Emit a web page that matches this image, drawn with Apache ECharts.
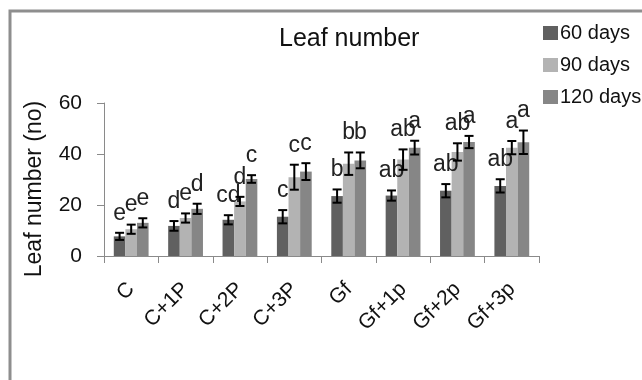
<!DOCTYPE html>
<html><head><meta charset="utf-8">
<script src="https://cdn.jsdelivr.net/npm/echarts@6/dist/echarts.min.js"></script>
<style>html,body{margin:0;padding:0;background:#fff}#c{width:642px;height:380px}</style>
</head><body><div id="c"></div>
<script>
const categories = ['C','C+1P','C+2P','C+3P','Gf','Gf+1p','Gf+2p','Gf+3p'];
const seriesNames = ['60 days','90 days','120 days'];
const days60  = [7.7, 11.8, 14.2, 15.4, 23.5, 23.7, 25.6, 27.5];
const days90  = [10.5, 14.9, 21.4, 30.9, 36.2, 37.8, 40.8, 42.5];
const days120 = [13.0, 18.5, 30.2, 33.1, 37.5, 42.5, 44.7, 44.6];
const err60  = [1.4, 1.9, 1.8, 2.6, 2.6, 2.0, 2.6, 2.6];
const err90  = [1.8, 1.8, 1.8, 4.9, 4.4, 4.0, 3.4, 2.6];
const err120 = [1.8, 2.0, 1.5, 3.3, 3.1, 2.7, 2.4, 4.6];
const letters60  = ['e','d','cd','c','b','ab','ab','ab'];
const letters90  = ['e','e','d','c','b','ab','ab','a'];
const letters120 = ['e','d','c','c','b','a','a','a'];
const yTicks = [0, 20, 40, 60];
const yTitle = 'Leaf number (no)';

const colors = ['#606060', '#b3b3b3', '#868686'];
const values = [days60, days90, days120];
const errs = [err60, err90, err120];
const letters = [letters60, letters90, letters120];
const font = 'Liberation Sans, Arial, sans-serif';
const catGap = 0.36;

const chart = echarts.init(document.getElementById('c'));

const barSeries = values.map((v, i) => ({
  name: seriesNames[i], type: 'bar', data: v,
  barGap: '0%', barCategoryGap: (catGap * 100) + '%',
  itemStyle: { color: colors[i] }, z: 2
}));

const errSeries = values.map((v, i) => ({
  type: 'custom', name: seriesNames[i] + ' err', z: 5, silent: true,
  data: v.map((val, k) => [k, val, errs[i][k], letters[i][k]]),
  encode: { x: 0, y: 1 },
  renderItem: function (params, api) {
    const k = api.value(0), val = api.value(1), e = api.value(2);
    const catW = api.size([1, 0])[0];
    const bw = catW * (1 - catGap) / 3;
    const c = api.coord([k, val]);
    const x = c[0] + (i - 1) * bw;
    const yHi = api.coord([k, val + e])[1];
    const yLo = api.coord([k, val - e])[1];
    const cap = 4.5;
    const st = { stroke: '#000', lineWidth: 2 };
    return {
      type: 'group', children: [
        { type: 'line', shape: { x1: x, y1: yHi, x2: x, y2: yLo }, style: st },
        { type: 'line', shape: { x1: x - cap, y1: yHi, x2: x + cap, y2: yHi }, style: st },
        { type: 'line', shape: { x1: x - cap, y1: yLo, x2: x + cap, y2: yLo }, style: st },
        { type: 'text', style: { text: letters[i][k], x: x, y: yHi - 8, align: 'center', verticalAlign: 'bottom',
            font: '23px ' + font, fill: '#222' } }
      ]
    };
  }
}));

chart.setOption({
  animation: false,
  backgroundColor: '#fff',
  title: { text: 'Leaf number', left: 274, top: 22,
    textStyle: { fontFamily: font, fontSize: 25, fontWeight: 'normal', color: '#111' } },
  legend: {
    data: seriesNames, orient: 'vertical', left: 538, top: 18,
    itemWidth: 15, itemHeight: 14, itemGap: 12, icon: 'rect',
    textStyle: { fontFamily: font, fontSize: 20, color: '#111', padding: [0, 0, 0, -3] }
  },
  grid: { left: 104, right: 103, top: 103, bottom: 124 },
  xAxis: {
    type: 'category', data: categories,
    axisLine: { lineStyle: { color: '#8a8a8a', width: 1 } },
    axisTick: { show: true, length: 7, lineStyle: { color: '#8a8a8a' } },
    axisLabel: { rotate: 45, margin: 30, fontFamily: font, fontSize: 21, color: '#111', interval: 0 }
  },
  yAxis: {
    type: 'value', min: 0, max: 60, interval: 20,
    axisLine: { show: true, lineStyle: { color: '#8a8a8a', width: 1 } },
    axisTick: { show: true, length: 7, lineStyle: { color: '#8a8a8a' } },
    splitLine: { show: false },
    axisLabel: { margin: 22, fontFamily: font, fontSize: 21, color: '#111',
      formatter: v => yTicks.includes(v) ? String(v) : '' }
  },
  graphic: [
    { type: 'rect', shape: { x: 10, y: 11, width: 800, height: 600 },
      style: { fill: 'none', stroke: '#8e8e8e', lineWidth: 3 }, z: 100 },
    { type: 'text', x: 35, y: 189, rotation: Math.PI / 2,
      style: { text: yTitle, font: '23px ' + font, fill: '#111', align: 'center', verticalAlign: 'middle' } }
  ],
  series: [...barSeries, ...errSeries]
});
</script></body></html>
